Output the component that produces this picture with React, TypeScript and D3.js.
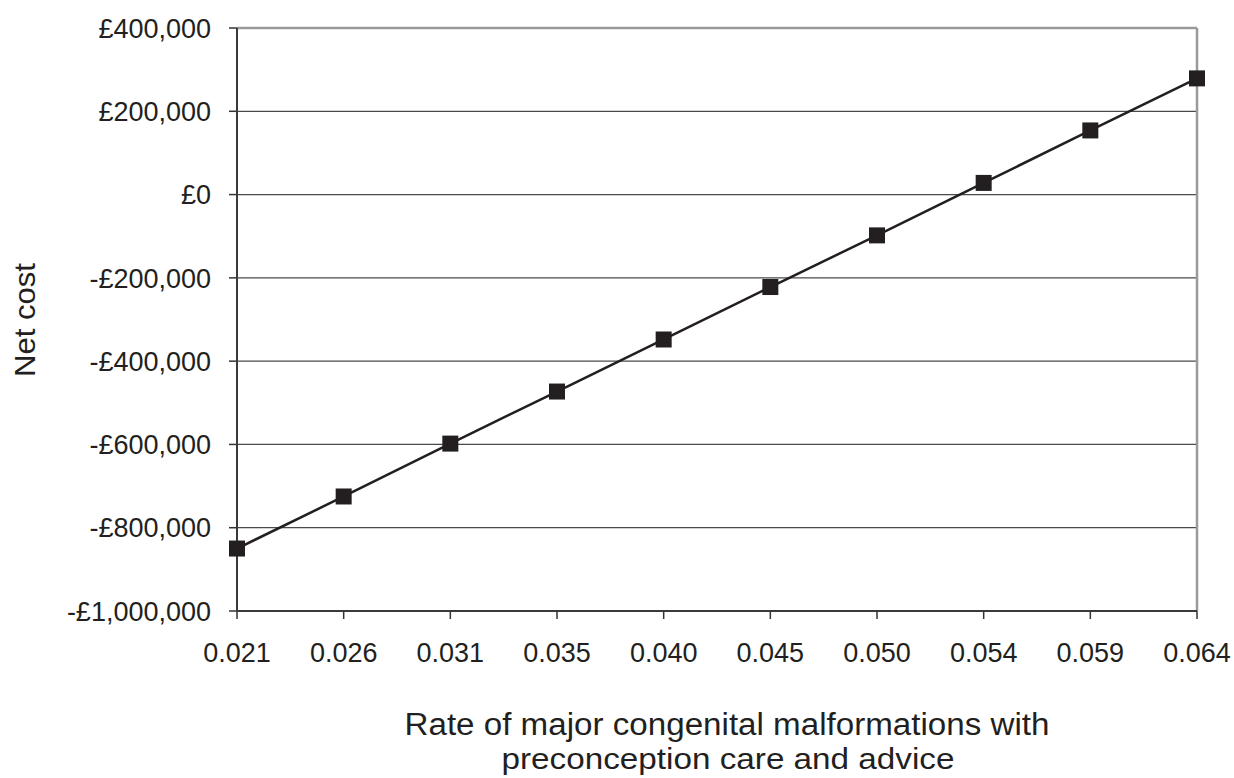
import React from "react";
import * as d3 from "d3";

const categories = ["0.021", "0.026", "0.031", "0.035", "0.040", "0.045", "0.050", "0.054", "0.059", "0.064"];
const netCost = [-850000, -725000, -598000, -473000, -348000, -222000, -98000, 28000, 154000, 279000];
const yTicks = [-1000000, -800000, -600000, -400000, -200000, 0, 200000, 400000];

const W = 1234;
const H = 778;
const left = 237;
const right = 1197;
const top = 28;
const bottom = 611;

function fmt(v: number) {
  const s = d3.format(",")(Math.abs(v));
  return (v < 0 ? "-" : "") + "£" + s;
}

export default function App() {
  const x = d3.scalePoint<string>().domain(categories).range([left, right]);
  const y = d3.scaleLinear().domain([-1000000, 400000]).range([bottom, top]);
  const line = d3
    .line<number>()
    .x((_, i) => x(categories[i]) as number)
    .y((d) => y(d));
  const font = "'Liberation Sans', Arial, Helvetica, sans-serif";
  const ink = "#231f20";
  return (
    <svg
      width={W}
      height={H}
      style={{ position: "absolute", left: 0, top: 0, background: "#fff" }}
      fontFamily={font}
    >
      <rect x={0} y={0} width={W} height={H} fill="#fff" />
      {yTicks.map((t) => (
        <g key={t}>
          {t !== -1000000 && t !== 400000 && (
            <line x1={left} x2={right} y1={y(t)} y2={y(t)} stroke="#4a4a4a" strokeWidth={1.2} />
          )}
          <line x1={left - 8} x2={left} y1={y(t)} y2={y(t)} stroke="#333" strokeWidth={1.5} />
          <text x={211} y={y(t)} dy="0.36em" textAnchor="end" fontSize={27} fill={ink}>
            {fmt(t)}
          </text>
        </g>
      ))}
      {/* frame top & right */}
      <line x1={left} x2={right} y1={top} y2={top} stroke="#9a9a9a" strokeWidth={2.5} />
      <line x1={right} x2={right} y1={top} y2={bottom} stroke="#9a9a9a" strokeWidth={2.5} />
      {/* axes */}
      <line x1={left} x2={left} y1={top} y2={bottom} stroke="#3a3a3a" strokeWidth={2} />
      <line x1={left} x2={right} y1={bottom} y2={bottom} stroke="#3a3a3a" strokeWidth={2} />
      {categories.map((c) => (
        <g key={c}>
          <line x1={x(c)} x2={x(c)} y1={bottom} y2={bottom + 8} stroke="#333" strokeWidth={1.5} />
          <text x={x(c)} y={662} textAnchor="middle" fontSize={27} fill={ink}>
            {c}
          </text>
        </g>
      ))}
      <path d={line(netCost) || ""} fill="none" stroke={ink} strokeWidth={2.5} />
      {netCost.map((v, i) => (
        <rect
          key={i}
          x={(x(categories[i]) as number) - 8}
          y={y(v) - 8}
          width={16}
          height={16}
          fill={ink}
        />
      ))}
      <text
        transform={`translate(35,320) rotate(-90)`}
        textAnchor="middle"
        fontSize={30}
        fill={ink}
        textLength={114}
        lengthAdjust="spacingAndGlyphs"
      >
        Net cost
      </text>
      <text x={727} y={735} textAnchor="middle" fontSize={31} fill={ink} textLength={645} lengthAdjust="spacingAndGlyphs">
        Rate of major congenital  malformations with
      </text>
      <text x={728} y={769} textAnchor="middle" fontSize={30} fill={ink} textLength={453} lengthAdjust="spacingAndGlyphs">
        preconception care and advice
      </text>
    </svg>
  );
}
